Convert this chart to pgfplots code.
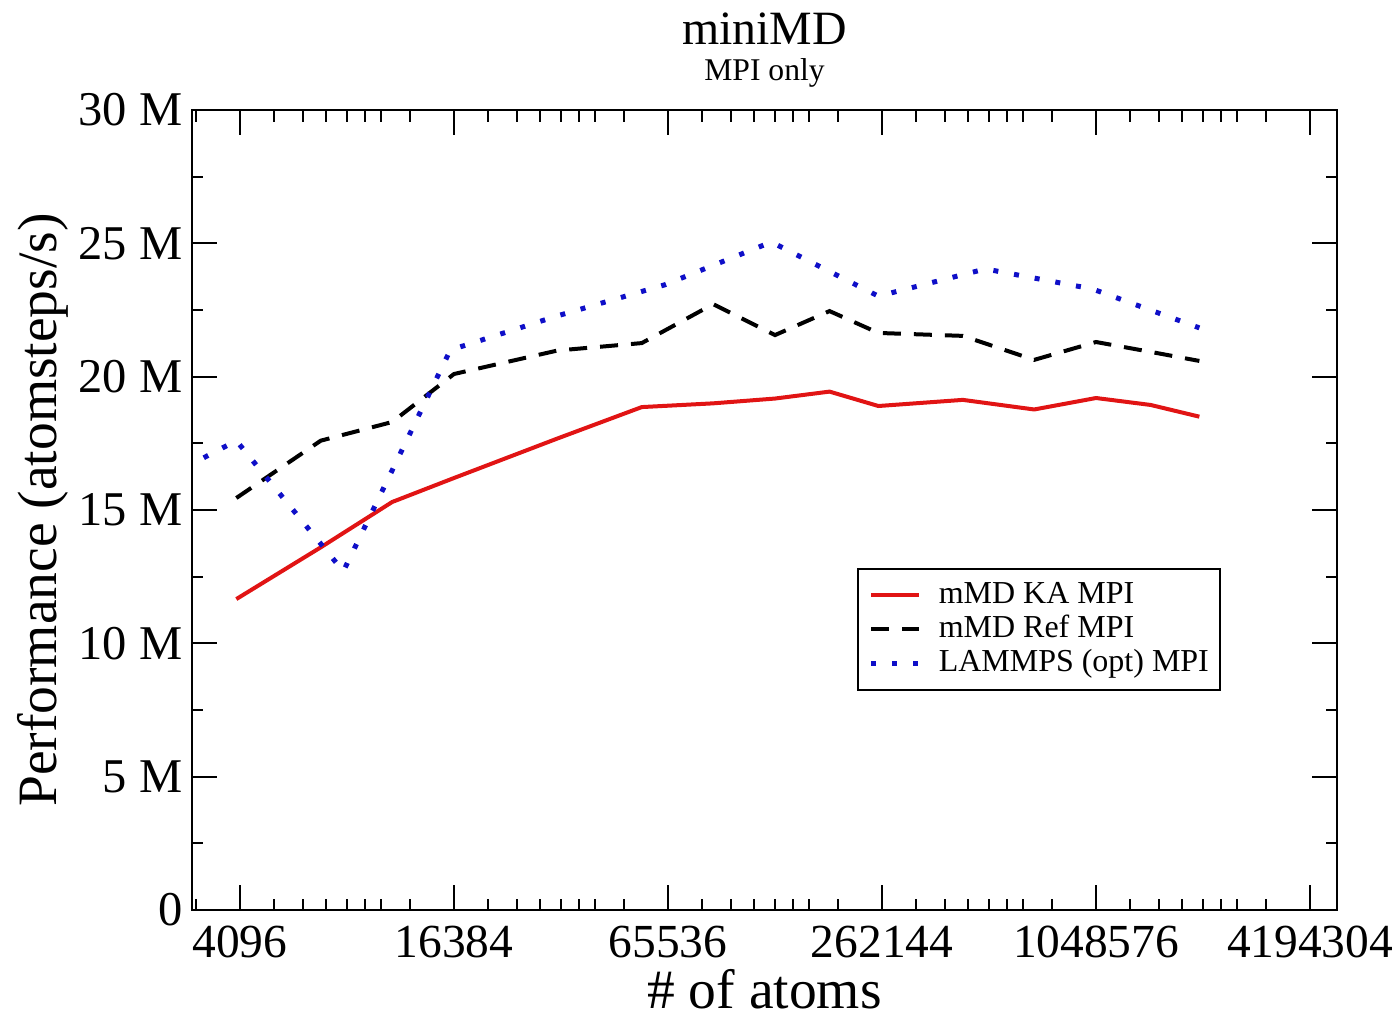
\documentclass[border=0pt]{standalone}
\usepackage{fontspec}
\setmainfont{Liberation Serif}
\usepackage{pgfplots}
\pgfplotsset{compat=1.18}
\definecolor{kared}{RGB}{225,20,20}
\definecolor{lmpblue}{RGB}{15,15,200}

\begin{document}
\begin{tikzpicture}
\useasboundingbox (-19.2mm,-10.5mm) rectangle (120.8mm,91mm);
\begin{axis}[
  scale only axis, width=114.5mm, height=80mm,
  xmode=log, log basis x=2, xmin=3002, xmax=4995000,
  ymin=0, ymax=30,
  clip mode=individual,
  xtick={4096,16384,65536,262144,1048576,4194304},
  xticklabels={4096,16384,65536,262144,1048576,4194304},
  extra x ticks={3072,
    5120,6144,7168,8192,9216,10240,12288,
    20480,24576,28672,32768,36864,40960,49152,
    81920,98304,114688,131072,147456,163840,196608,
    327680,393216,458752,524288,589824,655360,786432,
    1310720,1572864,1835008,2097152,2359296,2621440,3145728},
  extra x tick labels={},
  extra x tick style={major tick length=1.15mm},
  ytick={0,5,10,15,20,25,30},
  yticklabels={0,5 M,10 M,15 M,20 M,25 M,30 M},
  minor ytick={2.5,7.5,12.5,17.5,22.5,27.5},
  xtick pos=both, ytick pos=both,
  tick align=inside,
  major tick length=2.5mm, minor tick length=1.15mm,
  every tick/.style={black, line width=0.2mm},
  axis line style={line width=0.2mm},
  /pgf/number format/assume math mode=true,
  xticklabel style={font=\fontsize{13.5}{15}\selectfont, inner sep=0pt, anchor=north, yshift=-1.5mm},
  yticklabel style={font=\fontsize{13.8}{15}\selectfont, inner sep=0pt, anchor=east, xshift=-0.9mm},
  xlabel={\# of atoms},
  ylabel={Performance (atomsteps/s)},
  xlabel style={font=\fontsize{15.8}{18}\selectfont, at={(axis description cs:0.5,-0.1225)}, anchor=base},
  ylabel style={font=\fontsize{15.8}{18}\selectfont, at={(axis description cs:-0.118,0.5)}, anchor=base},
  legend image code/.code={\draw (0mm,0mm) -- (4.8mm,0mm);},
  legend cell align=left,
  legend style={at={(axis description cs:0.5808,0.4275)}, anchor=north west,
    draw=black, line width=0.15mm, font=\fontsize{9.1}{11}\selectfont,
    inner xsep=1.1mm, inner ysep=1.15mm, row sep=0.4mm, column sep=1.7mm,
    nodes={inner sep=0pt, text height=2.3mm, text depth=0.7mm}},
]
\addplot[kared, line width=0.4mm, line join=round] coordinates {
  (4000,11.66) (6912,13.6) (10976,15.3) (16384,16.2) (32000,17.68)
  (55296,18.86) (87808,19.0) (131072,19.18) (186624,19.44) (256000,18.9)
  (442368,19.13) (702464,18.77) (1048576,19.2) (1492992,18.94) (2048000,18.5)};
\addlegendentry{mMD KA MPI}
\addplot[black, line width=0.4mm, dash pattern=on 1.8mm off 1.3mm] coordinates {
  (4000,15.45) (6912,17.6) (10976,18.3) (16384,20.1) (32000,20.98)
  (55296,21.26) (87808,22.72) (131072,21.56) (186624,22.46) (256000,21.64)
  (442368,21.53) (702464,20.63) (1048576,21.3) (1492992,20.93) (2048000,20.59)};
\addlegendentry{mMD Ref MPI}
\addplot[lmpblue, line width=0.5mm, line cap=butt, dash pattern=on 0.5mm off 1.6mm] coordinates {
  (2000,15.5) (4000,17.6) (8000,12.7) (16000,21.0) (32000,22.28)
  (64000,23.44) (128000,25.05) (256000,23.02) (512000,24.04)
  (1024000,23.29) (2048000,21.83)};
\addlegendentry{LAMMPS (opt) MPI}
\node[anchor=base, font=\fontsize{13.6}{16}\selectfont] at (axis description cs:0.5,1.0813) {miniMD};
\node[anchor=base, font=\fontsize{9}{11}\selectfont] at (axis description cs:0.5,1.0375) {MPI only};
\end{axis}
\end{tikzpicture}
\end{document}
